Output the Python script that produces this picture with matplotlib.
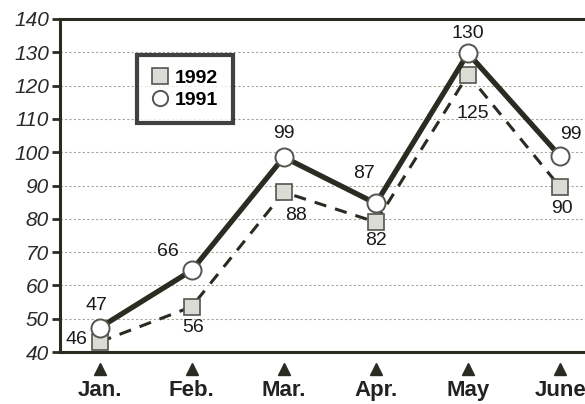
import matplotlib
matplotlib.use("Agg")
import matplotlib.pyplot as plt
import matplotlib.transforms as mtransforms

plt.rcParams['font.family'] = ['Liberation Sans', 'DejaVu Sans']

# data
months = ['Jan.', 'Feb.', 'Mar.', 'Apr.', 'May', 'June']
y1991 = [47.3, 64.5, 98.5, 84.6, 129.7, 98.8]
y1992 = [43.0, 53.6, 88.0, 79.0, 123.3, 89.5]
lab1991 = ['47', '66', '99', '87', '130', '99']
lab1992 = ['46', '56', '88', '82', '125', '90']
yticks = [40, 50, 60, 70, 80, 90, 100, 110, 120, 130, 140]

ink = '#2b2b22'

fig = plt.figure(figsize=(5.85, 4.04), dpi=100)
ax = fig.add_axes([60 / 585, 1 - 352 / 404, 1 - 60 / 585, (352 - 19) / 404])

x = list(range(len(months)))
ax.plot(x, y1992, ls=(0, (4, 3)), lw=2.2, color=ink, marker='s', ms=11,
        mfc='#dcdcd6', mec='#555550', mew=1.2, label='1992', zorder=3)
ax.plot(x, y1991, ls='-', lw=3.8, color=ink, marker='o', ms=13,
        mfc='white', mec='#555550', mew=1.4, label='1991', zorder=4)

# value labels (offsets in pixels, converted to points)
off91 = [(-3, 22), (-24, 19), (0, 24), (-12, 30), (0, 20), (11, 22)]
off92 = [(-23, 3), (1, -21), (12, -23), (0, -18), (5, -39), (2, -21)]
for i in x:
    ax.annotate(lab1991[i], (i, y1991[i]), xytext=(off91[i][0] * 0.72, off91[i][1] * 0.72),
                textcoords='offset points', ha='center', va='center', fontsize=14, color='#1a1a1a')
    ax.annotate(lab1992[i], (i, y1992[i]), xytext=(off92[i][0] * 0.72, off92[i][1] * 0.72),
                textcoords='offset points', ha='center', va='center', fontsize=14, color='#1a1a1a')

ax.set_xlim(-0.43, 5.27)
ax.set_ylim(40, 140)
ax.set_yticks(yticks)
ax.set_yticklabels([str(v) for v in yticks], fontsize=15, style='italic', color='#2a2a2a')
ax.set_xticks(x)
ax.set_xticklabels(months, fontsize=16, fontweight='bold', color='#222')
ax.tick_params(axis='x', length=0, pad=20)
ax.tick_params(axis='y', length=6, width=2, color=ink, pad=2)

ax.grid(axis='y', ls=(0, (2, 2)), lw=0.8, color='#a5a59c')
ax.set_axisbelow(True)

for side in ['left', 'top', 'bottom']:
    ax.spines[side].set_linewidth(2.2)
    ax.spines[side].set_color(ink)
ax.spines['right'].set_visible(False)

# triangles under the axis
trans = mtransforms.blended_transform_factory(ax.transData, ax.transAxes)
ax.plot(x, [-0.05] * len(x), ls='none', marker='^', ms=9, color=ink,
        transform=trans, clip_on=False)

leg = ax.legend(loc='upper left', bbox_to_anchor=(0.147, 0.892),
                borderaxespad=0, frameon=True, fancybox=False, handlelength=0.8,
                handletextpad=0.4, borderpad=0.75, labelspacing=0.2,
                prop={'weight': 'bold', 'size': 14})
for h in leg.legend_handles:
    h.set_linestyle('none')
    h.set_markersize(11)
leg.get_frame().set_edgecolor('#111')
leg.get_frame().set_linewidth(3)

fig.savefig('out.png', dpi=100)
